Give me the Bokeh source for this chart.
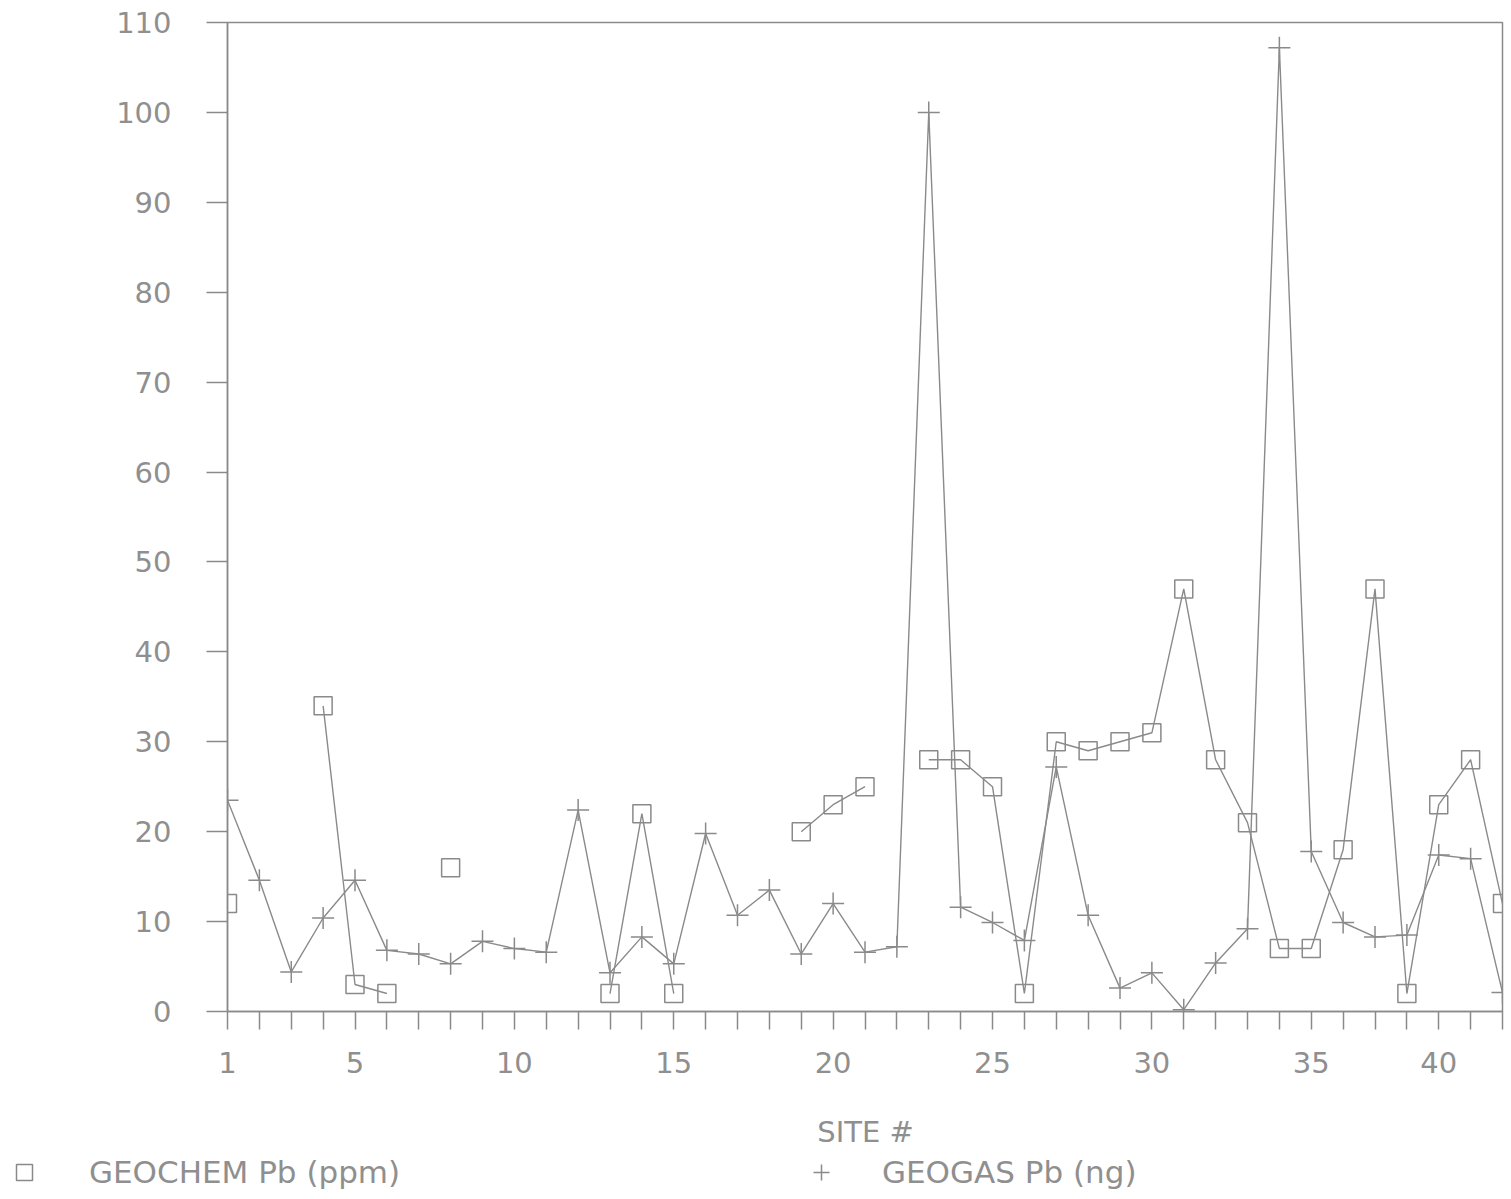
from bokeh.plotting import figure
from bokeh.layouts import column
from bokeh.models import FixedTicker, Range1d, Legend, LegendItem, Label
from bokeh.embed import file_html
from bokeh.resources import INLINE

nan = float("nan")

# ---- data ----
sites = list(range(1, 42))
geochem_pb = [12, nan, nan, 34, 3, 2, nan, 16, nan, nan, nan, nan, 2, 22, 2,
              nan, nan, nan, 20, 23, 25, nan, 28, 28, 25, 2, 30, 29, 30, 31,
              47, 28, 21, 7, 7, 18, 47, 2, 23, 28, 12]
geogas_pb = [23.5, 14.6, 4.4, 10.4, 14.6, 6.8, 6.4, 5.3, 7.8, 7.0, 6.6, 22.4,
             4.3, 8.3, 5.3, 19.8, 10.7, 13.5, 6.4, 12.0, 6.6, 7.2, 100.0, 11.6,
             9.9, 7.9, 27.2, 10.7, 2.6, 4.3, 0.2, 5.4, 9.2, 107.2, 17.8, 9.9,
             8.3, 8.5, 17.4, 17.0, 2.1]
y_ticks = list(range(0, 111, 10))
x_tick_positions = [1, 5, 10, 15, 20, 25, 30, 35, 39]
x_tick_labels = ["1", "5", "10", "15", "20", "25", "30", "35", "40"]
x_axis_title = "SITE #"
series_names = ["GEOCHEM Pb (ppm)", "GEOGAS Pb (ng)"]

GRAY = "#8a8a8a"
TEXT = "#8f8f8f"
FONT = "DejaVu Sans"
FS = "29px"
W = 1504

p = figure(frame_width=1275, frame_height=989,
           min_border_left=227, min_border_right=2,
           min_border_top=22, min_border_bottom=80,
           x_range=Range1d(1, 41), y_range=Range1d(0, 110),
           output_backend="svg", toolbar_location=None)

p.background_fill_color = "white"
p.border_fill_color = "white"
p.xgrid.visible = False
p.ygrid.visible = False
p.outline_line_color = GRAY
p.outline_line_width = 1.5

# x axis
p.xaxis.ticker = FixedTicker(ticks=sites)
overrides = {s: "" for s in sites}
for pos, lab in zip(x_tick_positions, x_tick_labels):
    overrides[pos] = lab
p.xaxis.major_label_overrides = overrides
p.xaxis.major_tick_out = 18
p.xaxis.major_tick_in = 0
p.xaxis.minor_tick_line_color = None
p.xaxis.major_label_standoff = 22

# y axis
p.yaxis.ticker = FixedTicker(ticks=y_ticks)
p.yaxis.major_tick_out = 21
p.yaxis.major_tick_in = 0
p.yaxis.minor_tick_line_color = None
p.yaxis.major_label_standoff = 35

for ax in (p.xaxis[0], p.yaxis[0]):
    ax.axis_line_color = GRAY
    ax.axis_line_width = 1.5
    ax.major_tick_line_color = GRAY
    ax.major_tick_line_width = 1.5
    ax.major_label_text_color = TEXT
    ax.major_label_text_font = FONT
    ax.major_label_text_font_size = FS

# series
p.line(sites, geochem_pb, line_color=GRAY, line_width=1.4)
p.scatter(sites, geochem_pb, marker="square", size=18,
          fill_color=None, line_color=GRAY, line_width=1.5)
p.line(sites, geogas_pb, line_color=GRAY, line_width=1.4)
p.scatter(sites, geogas_pb, marker="cross", size=22,
          line_color=GRAY, line_width=1.5)

# ---- strip below the chart: axis title and legend ----
leg = figure(width=W, height=106, x_range=Range1d(1000, 2000),
             y_range=Range1d(1000, 2000), min_border=0,
             x_axis_location=None, y_axis_location=None,
             output_backend="svg", toolbar_location=None)
leg.frame_align = False
leg.outline_line_color = None
leg.xgrid.visible = False
leg.ygrid.visible = False
leg.background_fill_color = "white"
leg.border_fill_color = "white"

# legend key renderers (same styles as the chart; data lies outside this strip's view)
k_chem = leg.scatter(sites, geochem_pb, marker="square", size=18,
                     fill_color=None, line_color=GRAY, line_width=1.5)
k_gas = leg.scatter(sites, geogas_pb, marker="cross", size=22,
                    line_color=GRAY, line_width=1.5)

leg.add_layout(Label(x=865, y=66, x_units="screen", y_units="screen",
                     text=x_axis_title, text_align="center",
                     text_baseline="middle", text_color=TEXT,
                     text_font=FONT, text_font_size=FS))


def make_legend(name, rend, loc, standoff):
    return Legend(items=[LegendItem(label=name, renderers=[rend])],
                  location=loc, orientation="horizontal",
                  glyph_width=40, glyph_height=40, label_standoff=standoff,
                  padding=0, margin=0, spacing=0,
                  border_line_color=None, background_fill_alpha=0,
                  label_text_color=TEXT, label_text_font=FONT,
                  label_text_font_size="31px")


leg.add_layout(make_legend(series_names[0], k_chem, (4, 5), 45))
leg.add_layout(make_legend(series_names[1], k_gas, (801, 5), 41))

layout = column(p, leg, spacing=0)
open("out.html", "w").write(file_html(layout, INLINE))
